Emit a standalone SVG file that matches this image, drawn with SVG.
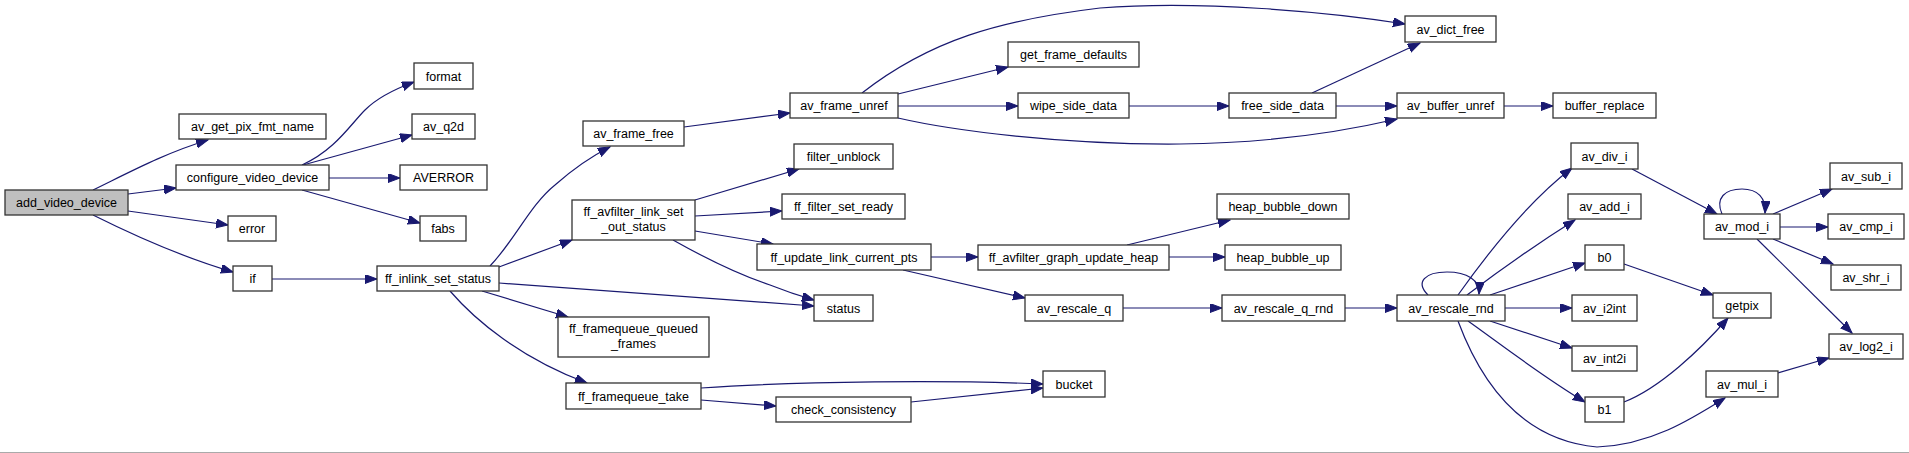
<svg xmlns="http://www.w3.org/2000/svg" width="1909" height="453" viewBox="0 0 1909 453">
<style>
.n rect{fill:#fff;stroke:#333;stroke-width:1.3}
.n.root rect{fill:#bfbfbf}
.n text{font-family:"Liberation Sans",Arial,sans-serif;font-size:12.5px;fill:#000;text-anchor:middle}
#edges path{fill:none;stroke:#191970;stroke-width:1.2;marker-end:url(#a)}
</style>
<defs>
<marker id="a" markerWidth="13" markerHeight="10" refX="12" refY="4.5" orient="auto" markerUnits="userSpaceOnUse">
<path d="M0,0 L12,4.5 L0,9 z" fill="#191970" stroke="#191970" stroke-width="1"/>
</marker>
</defs>
<rect x="0" y="0" width="1909" height="453" fill="#fff"/>
<line x1="0" y1="452.5" x2="1909" y2="452.5" stroke="#aaa" stroke-width="1"/>
<g id="edges">
<path d="M93,190 C130,172 165,153 208,140"/>
<path d="M128,194 L176,188"/>
<path d="M128,211 L228,225"/>
<path d="M93,215 C135,236 185,258 233,272"/>
<path d="M302,165 C335,150 350,125 365,110 C378,97 395,89 414,82"/>
<path d="M303,165 L412,135"/>
<path d="M329,178 L400,178"/>
<path d="M302,190 L420,223"/>
<path d="M272,279 L377,279"/>
<path d="M490,266 C515,240 530,205 555,185 C572,170 590,157 610,147"/>
<path d="M499,267 L572,240"/>
<path d="M499,283 L814,306"/>
<path d="M482,291 L568,317"/>
<path d="M450,291 C475,320 520,358 587,383"/>
<path d="M695,200 L799,169"/>
<path d="M695,216 L782,211"/>
<path d="M695,231 L773,244"/>
<path d="M673,240 C705,258 740,275 770,285 C785,291 800,296 814,300"/>
<path d="M684,127 L790,113"/>
<path d="M862,93 C930,40 1000,20 1100,8 C1200,0 1330,12 1405,24"/>
<path d="M898,94 L1008,67"/>
<path d="M898,106 L1018,106"/>
<path d="M898,118 C950,130 1060,145 1180,144 C1280,143 1350,130 1397,119"/>
<path d="M1129,106 L1229,106"/>
<path d="M1312,93 L1420,43"/>
<path d="M1336,106 L1397,106"/>
<path d="M1504,106 L1553,106"/>
<path d="M931,257 L978,257"/>
<path d="M903,270 L1025,298"/>
<path d="M1127,245 L1230,220"/>
<path d="M1169,257 L1225,257"/>
<path d="M1123,308 L1222,308"/>
<path d="M1345,308 L1397,308"/>
<path d="M701,388 C800,381 950,380 1043,384"/>
<path d="M701,400 L776,406"/>
<path d="M911,402 L1043,388"/>
<path d="M1428,295 C1415,282 1425,272 1447,272 C1467,272 1480,280 1479,294"/>
<path d="M1458,295 C1490,250 1530,200 1572,168"/>
<path d="M1467,295 C1500,270 1540,242 1575,220"/>
<path d="M1490,295 L1585,263"/>
<path d="M1505,308 L1572,308"/>
<path d="M1490,321 L1572,348"/>
<path d="M1468,321 C1495,340 1540,375 1585,402"/>
<path d="M1458,321 C1480,380 1520,440 1597,447 C1650,445 1690,420 1725,398"/>
<path d="M1632,169 L1717,214"/>
<path d="M1722,214 C1715,198 1725,189 1742,189 C1758,189 1766,198 1765,213"/>
<path d="M1773,214 L1832,189"/>
<path d="M1780,227 L1828,227"/>
<path d="M1773,239 L1833,264"/>
<path d="M1757,239 L1852,333"/>
<path d="M1624,264 L1713,295"/>
<path d="M1624,402 C1660,388 1700,350 1728,318"/>
<path d="M1778,373 L1829,358"/>
</g>
<g id="add_video_device" class="n root"><rect x="5" y="190" width="123" height="25"/><text x="66.5" y="207">add_video_device</text></g>
<g id="av_get_pix_fmt_name" class="n"><rect x="179" y="114" width="147" height="25"/><text x="252.5" y="131">av_get_pix_fmt_name</text></g>
<g id="configure_video_device" class="n"><rect x="176" y="165" width="153" height="25"/><text x="252.5" y="182">configure_video_device</text></g>
<g id="format" class="n"><rect x="414" y="63" width="59" height="26"/><text x="443.5" y="80.5">format</text></g>
<g id="av_q2d" class="n"><rect x="412" y="114" width="63" height="25"/><text x="443.5" y="131">av_q2d</text></g>
<g id="AVERROR" class="n"><rect x="400" y="165" width="87" height="25"/><text x="443.5" y="182">AVERROR</text></g>
<g id="fabs" class="n"><rect x="420" y="216" width="46" height="25"/><text x="443" y="233">fabs</text></g>
<g id="error" class="n"><rect x="228" y="216" width="48" height="25"/><text x="252" y="233">error</text></g>
<g id="if" class="n"><rect x="233" y="266" width="39" height="25"/><text x="252.5" y="283">if</text></g>
<g id="ff_inlink_set_status" class="n"><rect x="377" y="266" width="122" height="25"/><text x="438" y="283">ff_inlink_set_status</text></g>
<g id="av_frame_free" class="n"><rect x="583" y="121" width="101" height="25"/><text x="633.5" y="138">av_frame_free</text></g>
<g id="av_frame_unref" class="n"><rect x="790" y="93" width="108" height="25"/><text x="844" y="110">av_frame_unref</text></g>
<g id="filter_unblock" class="n"><rect x="794" y="144" width="99" height="25"/><text x="843.5" y="161">filter_unblock</text></g>
<g id="ff_filter_set_ready" class="n"><rect x="782" y="194" width="123" height="25"/><text x="843.5" y="211">ff_filter_set_ready</text></g>
<g id="ff_avfilter_link_set_out_status" class="n"><rect x="572" y="200" width="123" height="40"/><text x="633.5" y="216">ff_avfilter_link_set</text><text x="633.5" y="231">_out_status</text></g>
<g id="ff_update_link_current_pts" class="n"><rect x="757" y="244" width="174" height="26"/><text x="844" y="261.5">ff_update_link_current_pts</text></g>
<g id="status" class="n"><rect x="814" y="295" width="59" height="26"/><text x="843.5" y="312.5">status</text></g>
<g id="ff_framequeue_queued_frames" class="n"><rect x="558" y="317" width="151" height="40"/><text x="633.5" y="333">ff_framequeue_queued</text><text x="633.5" y="348">_frames</text></g>
<g id="ff_framequeue_take" class="n"><rect x="566" y="383" width="135" height="26"/><text x="633.5" y="400.5">ff_framequeue_take</text></g>
<g id="check_consistency" class="n"><rect x="776" y="397" width="135" height="25"/><text x="843.5" y="414">check_consistency</text></g>
<g id="av_dict_free" class="n"><rect x="1405" y="16" width="91" height="26"/><text x="1450.5" y="33.5">av_dict_free</text></g>
<g id="get_frame_defaults" class="n"><rect x="1008" y="42" width="131" height="25"/><text x="1073.5" y="59">get_frame_defaults</text></g>
<g id="wipe_side_data" class="n"><rect x="1018" y="93" width="111" height="25"/><text x="1073.5" y="110">wipe_side_data</text></g>
<g id="free_side_data" class="n"><rect x="1229" y="93" width="107" height="25"/><text x="1282.5" y="110">free_side_data</text></g>
<g id="av_buffer_unref" class="n"><rect x="1397" y="93" width="107" height="25"/><text x="1450.5" y="110">av_buffer_unref</text></g>
<g id="buffer_replace" class="n"><rect x="1553" y="93" width="103" height="25"/><text x="1604.5" y="110">buffer_replace</text></g>
<g id="ff_avfilter_graph_update_heap" class="n"><rect x="978" y="245" width="191" height="25"/><text x="1073.5" y="262">ff_avfilter_graph_update_heap</text></g>
<g id="heap_bubble_down" class="n"><rect x="1217" y="194" width="132" height="25"/><text x="1283" y="211">heap_bubble_down</text></g>
<g id="heap_bubble_up" class="n"><rect x="1225" y="245" width="116" height="25"/><text x="1283" y="262">heap_bubble_up</text></g>
<g id="av_rescale_q" class="n"><rect x="1025" y="295" width="98" height="26"/><text x="1074" y="312.5">av_rescale_q</text></g>
<g id="av_rescale_q_rnd" class="n"><rect x="1222" y="295" width="123" height="26"/><text x="1283.5" y="312.5">av_rescale_q_rnd</text></g>
<g id="av_rescale_rnd" class="n"><rect x="1397" y="295" width="108" height="26"/><text x="1451" y="312.5">av_rescale_rnd</text></g>
<g id="bucket" class="n"><rect x="1043" y="371" width="62" height="26"/><text x="1074" y="388.5">bucket</text></g>
<g id="av_div_i" class="n"><rect x="1571" y="143" width="67" height="26"/><text x="1604.5" y="160.5">av_div_i</text></g>
<g id="av_add_i" class="n"><rect x="1568" y="194" width="73" height="25"/><text x="1604.5" y="211">av_add_i</text></g>
<g id="b0" class="n"><rect x="1585" y="245" width="39" height="25"/><text x="1604.5" y="262">b0</text></g>
<g id="av_i2int" class="n"><rect x="1572" y="295" width="65" height="26"/><text x="1604.5" y="312.5">av_i2int</text></g>
<g id="av_int2i" class="n"><rect x="1572" y="346" width="65" height="25"/><text x="1604.5" y="363">av_int2i</text></g>
<g id="b1" class="n"><rect x="1585" y="397" width="39" height="25"/><text x="1604.5" y="414">b1</text></g>
<g id="av_mod_i" class="n"><rect x="1704" y="214" width="76" height="25"/><text x="1742" y="231">av_mod_i</text></g>
<g id="getpix" class="n"><rect x="1713" y="293" width="58" height="25"/><text x="1742" y="310">getpix</text></g>
<g id="av_mul_i" class="n"><rect x="1706" y="371" width="72" height="26"/><text x="1742" y="388.5">av_mul_i</text></g>
<g id="av_sub_i" class="n"><rect x="1830" y="163" width="72" height="26"/><text x="1866" y="180.5">av_sub_i</text></g>
<g id="av_cmp_i" class="n"><rect x="1828" y="214" width="76" height="25"/><text x="1866" y="231">av_cmp_i</text></g>
<g id="av_shr_i" class="n"><rect x="1831" y="265" width="70" height="25"/><text x="1866" y="282">av_shr_i</text></g>
<g id="av_log2_i" class="n"><rect x="1829" y="334" width="74" height="25"/><text x="1866" y="351">av_log2_i</text></g>
</svg>
